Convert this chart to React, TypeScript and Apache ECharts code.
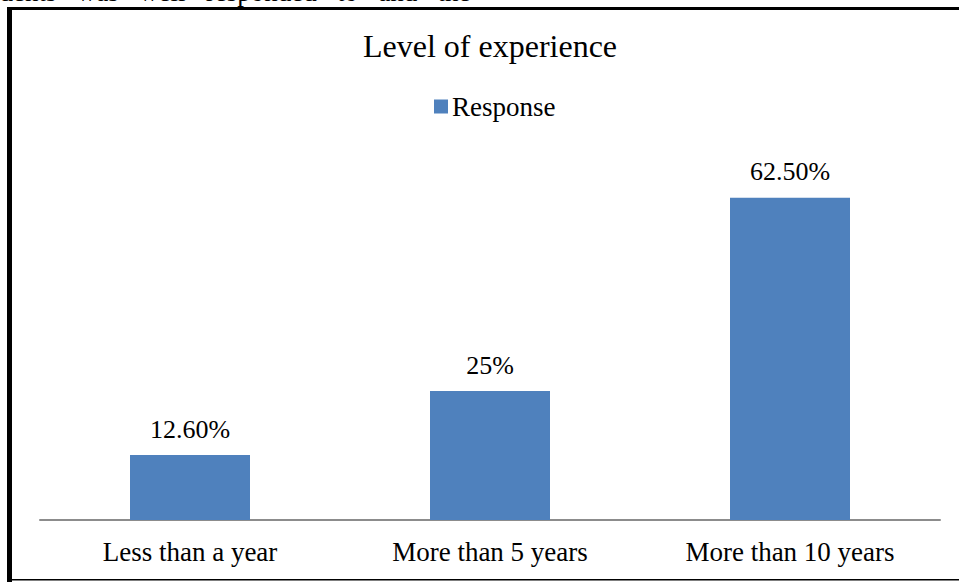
import React, { useEffect, useRef } from "react";
import * as echarts from "echarts";

const categories = ["Less than a year", "More than 5 years", "More than 10 years"];
const responseValues = [12.6, 25, 62.5];
const valueLabels = ["12.60%", "25%", "62.50%"];
const seriesName = "Response";
const titleText = "Level of experience";
const topCutText = "ndents   was   well   responded   to   and   the";

export default function App() {
  const ref = useRef<HTMLDivElement>(null);
  useEffect(() => {
    document.body.style.margin = "0";
    const chart = echarts.init(ref.current!, null, { renderer: "svg" });
    const font = "'Liberation Serif', 'Times New Roman', serif";
    chart.setOption({
      animation: false,
      backgroundColor: "#ffffff",
      textStyle: { fontFamily: font },
      title: {
        text: titleText,
        left: 485,
        textAlign: "center",
        top: 25,
        textStyle: { fontFamily: font, fontSize: 32, fontWeight: "normal", color: "#000" },
      },
      legend: {
        data: [seriesName],
        left: 429,
        top: 88,
        itemWidth: 14,
        itemHeight: 14,
        icon: "rect",
        textStyle: { fontFamily: font, fontSize: 27, color: "#000", padding: [0, 0, 0, -1] },
      },
      grid: { left: 40, right: 19, top: 159, bottom: 62 },
      xAxis: {
        type: "category",
        data: categories,
        axisLine: { lineStyle: { color: "#8c8c8c", width: 2 } },
        axisTick: { show: false },
        axisLabel: { fontFamily: font, fontSize: 27, color: "#000", margin: 18 },
      },
      yAxis: {
        type: "value",
        min: 0,
        max: 70,
        show: false,
        splitLine: { show: false },
      },
      series: [
        {
          name: seriesName,
          type: "bar",
          data: responseValues,
          barWidth: "40%",
          itemStyle: { color: "#4F81BD" },
          label: {
            show: true,
            position: "top",
            distance: 13,
            fontFamily: font,
            fontSize: 26,
            color: "#000",
            formatter: (p: any) => valueLabels[p.dataIndex],
          },
        },
      ],
      graphic: [
        {
          type: "text",
          left: -14,
          top: -22,
          style: { text: topCutText, fontFamily: font, fontSize: 27, fill: "#000" },
        },
        { type: "rect", shape: { x: 7, y: 7, width: 952, height: 3 }, style: { fill: "#000" } },
        { type: "rect", shape: { x: 7, y: 7, width: 5, height: 575 }, style: { fill: "#000" } },
        { type: "rect", shape: { x: 12, y: 579, width: 947, height: 1.5 }, style: { fill: "#000" } },
      ],
    });
    return () => chart.dispose();
  }, []);
  return <div ref={ref} style={{ position: "absolute", left: 0, top: 0, width: 959, height: 582 }} />;
}
